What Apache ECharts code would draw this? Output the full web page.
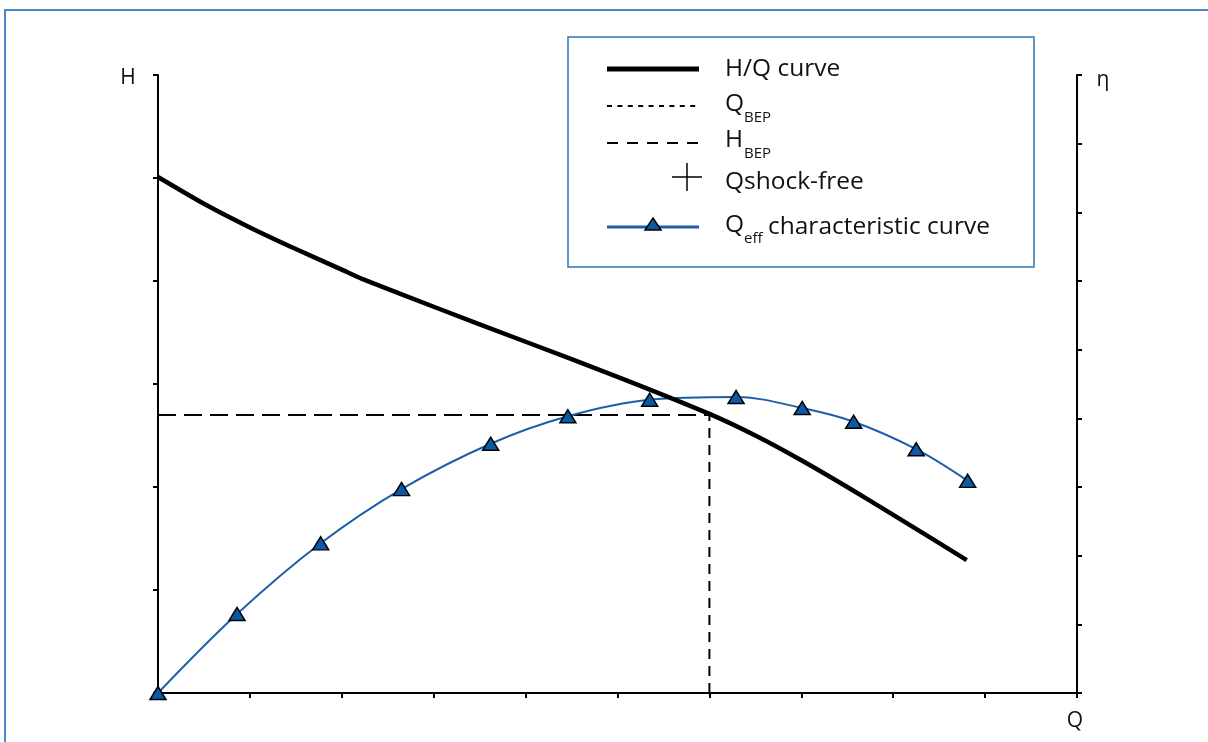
<!DOCTYPE html>
<html>
<head>
<meta charset="utf-8">
<title>Pump characteristic curves</title>
<script src="https://cdn.jsdelivr.net/npm/echarts@6/dist/echarts.min.js"></script>
<style>
  html, body { margin: 0; padding: 0; background: #fff; }
  #chart { width: 1208px; height: 742px; }
</style>
</head>
<body>
<div id="chart"></div>
<script>
// H/Q curve: head over flow (left axis, H)
const hqFlow = [0, 0.5, 1, 1.5, 2, 2.22, 3, 4, 5, 6, 6.5, 7, 7.5, 8, 8.8];
const hqHead = [5.01, 4.75, 4.52, 4.31, 4.11, 4.02, 3.75, 3.41, 3.07, 2.71, 2.50, 2.26, 2.00, 1.73, 1.29];

// Efficiency characteristic curve (right axis, η)
const effFlow = [0, 0.86, 1.77, 2.65, 3.62, 4.46, 5.35, 6.29, 7.01, 7.57, 8.25, 8.81];
const effEta = [0, 1.15, 2.18, 2.97, 3.63, 4.03, 4.27, 4.31, 4.15, 3.95, 3.55, 3.09];

// Best efficiency point
const qBEP = 6;
const hBEP = 2.7;

// Axis ranges (tick counts)
const qRange = [0, 10];
const hRange = [0, 6];
const etaRange = [0, 9];

// Axis titles and legend texts
const axisTitles = { h: 'H', eta: 'η', q: 'Q' };
const legendTexts = {
  hq: 'H/Q curve',
  qbep: ['Q', 'BEP'],
  hbep: ['H', 'BEP'],
  shock: 'Qshock-free',
  eff: ['Q', 'eff', 'characteristic curve']
};

const FONT = '"Open Sans", "Noto Sans", sans-serif';
const TXT = '#111';
const BLUE = '#1a5fa8';
const MAIN_SIZE = 24.5;
const SUB_SIZE = 15;

const zip = (a, b) => a.map((v, i) => [v, b[i]]);

const chart = echarts.init(document.getElementById('chart'), null, { renderer: 'canvas' });

const axisCommon = {
  type: 'value',
  axisLine: { show: true, onZero: false, lineStyle: { color: '#000', width: 2 } },
  axisTick: { show: true, length: 5, lineStyle: { color: '#000', width: 2 } },
  axisLabel: { show: false },
  splitLine: { show: false }
};

function txt(x, y, text, size, align, z) {
  return {
    type: 'text',
    x: x, y: y, z: z || 11,
    style: { text: text, fontSize: size, fontFamily: FONT, fill: TXT, verticalAlign: 'middle', align: align || 'left' }
  };
}

const legendX0 = 607, legendX1 = 699, textX = 725, subX = 744;

const graphics = [
  // outer frame
  { type: 'rect', shape: { x: 5, y: 10, width: 1260, height: 800 },
    style: { fill: null, stroke: '#4a88c9', lineWidth: 2 }, z: 0, silent: true },
  // axis titles
  txt(128, 78, axisTitles.h, 21, 'center', 5),
  txt(1103, 80, axisTitles.eta, 21, 'center', 5),
  txt(1075, 721, axisTitles.q, 21, 'center', 5),
  // legend box
  { type: 'rect', shape: { x: 568, y: 37, width: 466, height: 230 },
    style: { fill: '#fff', stroke: '#2f74b8', lineWidth: 1.5 }, z: 10 },
  // H/Q curve key
  { type: 'line', shape: { x1: legendX0, y1: 69, x2: legendX1, y2: 69 },
    style: { stroke: '#000', lineWidth: 5 }, z: 11 },
  txt(textX, 69, legendTexts.hq, MAIN_SIZE),
  // Q_BEP key
  { type: 'line', shape: { x1: legendX0, y1: 106, x2: legendX1, y2: 106 },
    style: { stroke: '#000', lineWidth: 2, lineDash: [5, 5.4] }, z: 11 },
  txt(textX, 104, legendTexts.qbep[0], MAIN_SIZE),
  txt(subX, 118, legendTexts.qbep[1], SUB_SIZE),
  // H_BEP key
  { type: 'line', shape: { x1: legendX0, y1: 143, x2: legendX1 + 2, y2: 143 },
    style: { stroke: '#000', lineWidth: 2, lineDash: [11, 9] }, z: 11 },
  txt(textX, 140, legendTexts.hbep[0], MAIN_SIZE),
  txt(subX, 154, legendTexts.hbep[1], SUB_SIZE),
  // shock-free key
  { type: 'line', shape: { x1: 672, y1: 177, x2: 702, y2: 177 },
    style: { stroke: '#000', lineWidth: 1.5 }, z: 11 },
  { type: 'line', shape: { x1: 687, y1: 163, x2: 687, y2: 191 },
    style: { stroke: '#000', lineWidth: 1.5 }, z: 11 },
  txt(textX, 182, legendTexts.shock, MAIN_SIZE),
  // efficiency curve key
  { type: 'line', shape: { x1: legendX0, y1: 227, x2: legendX1, y2: 227 },
    style: { stroke: BLUE, lineWidth: 3 }, z: 11 },
  { type: 'polygon', shape: { points: [[653, 218], [661, 230], [645, 230]] },
    style: { fill: '#0b5aa6', stroke: '#000', lineWidth: 1.5 }, z: 12 },
  txt(textX, 225, legendTexts.eff[0], MAIN_SIZE),
  txt(subX, 239, legendTexts.eff[1], SUB_SIZE),
  txt(768, 227, legendTexts.eff[2], MAIN_SIZE)
];

const option = {
  animation: false,
  backgroundColor: '#fff',
  grid: { left: 158, right: 131, top: 75, bottom: 49, containLabel: false },
  xAxis: Object.assign({}, axisCommon, { min: qRange[0], max: qRange[1], interval: 1 }),
  yAxis: [
    Object.assign({}, axisCommon, { min: hRange[0], max: hRange[1], interval: 1, position: 'left' }),
    Object.assign({}, axisCommon, { min: etaRange[0], max: etaRange[1], interval: 1, position: 'right' })
  ],
  series: [
    {
      name: 'H_BEP',
      type: 'line',
      yAxisIndex: 0,
      data: [[0, hBEP], [qBEP, hBEP]],
      showSymbol: false,
      lineStyle: { color: '#000', width: 2, type: [18, 8] },
      z: 2
    },
    {
      name: 'Q_BEP',
      type: 'line',
      yAxisIndex: 0,
      data: [[qBEP, 0], [qBEP, hBEP]],
      showSymbol: false,
      lineStyle: { color: '#000', width: 2, type: [10, 7] },
      z: 2
    },
    {
      name: 'Qeff characteristic curve',
      type: 'line',
      yAxisIndex: 1,
      data: zip(effFlow, effEta),
      smooth: 0.35,
      symbol: 'triangle',
      symbolSize: [16, 13],
      showSymbol: true,
      itemStyle: { color: '#0b5aa6', borderColor: '#000', borderWidth: 1.5 },
      lineStyle: { color: BLUE, width: 2 },
      z: 3
    },
    {
      name: 'H/Q curve',
      type: 'line',
      yAxisIndex: 0,
      data: zip(hqFlow, hqHead),
      smooth: 0.2,
      showSymbol: false,
      lineStyle: { color: '#000', width: 4.5 },
      z: 4
    }
  ],
  graphic: graphics
};

chart.setOption(option);
</script>
</body>
</html>
